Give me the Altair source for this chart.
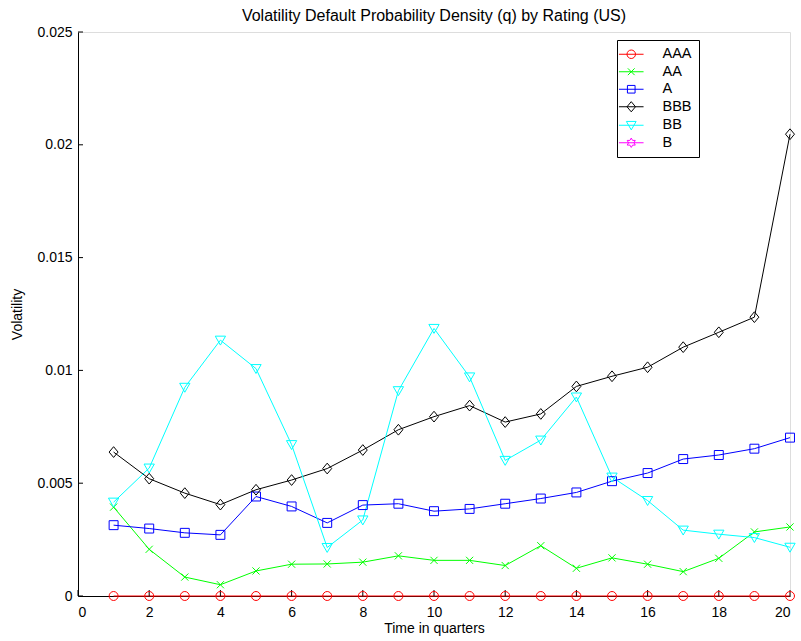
import altair as alt
import pandas as pd

quarters = list(range(1, 21))
series_names = ["AAA", "AA", "A", "BBB", "BB", "B"]
colors = ["#ff0000", "#00ff00", "#0000ff", "#000000", "#00ffff", "#ff00ff"]

aaa = [0.0] * 20
aa = [0.00394, 0.00207, 0.00084, 0.00050, 0.00111, 0.00141, 0.00142, 0.00150, 0.00178, 0.00158,
      0.00158, 0.00135, 0.00223, 0.00123, 0.00169, 0.00141, 0.00108, 0.00167, 0.00284, 0.00306]
a = [0.00314, 0.00299, 0.00280, 0.00271, 0.00441, 0.00397, 0.00324, 0.00403, 0.00409, 0.00376,
     0.00386, 0.00409, 0.00432, 0.00459, 0.00509, 0.00545, 0.00607, 0.00625, 0.00653, 0.00702]
bbb = [0.00638, 0.00520, 0.00456, 0.00405, 0.00471, 0.00514, 0.00565, 0.00647, 0.00737, 0.00795,
       0.00844, 0.00771, 0.00807, 0.00929, 0.00974, 0.01014, 0.01103, 0.01169, 0.01236, 0.02047]
bb = [0.00416, 0.00567, 0.00925, 0.01134, 0.01008, 0.00671, 0.00215, 0.00337, 0.00910, 0.01186,
      0.00971, 0.00601, 0.00691, 0.00882, 0.00527, 0.00423, 0.00292, 0.00274, 0.00259, 0.00216]
b = [None] * 20

x_ticks = [0, 2, 4, 6, 8, 10, 12, 14, 16, 18, 20]
y_ticks = [0, 0.005, 0.01, 0.015, 0.02, 0.025]

rows = []
for name, vals in zip(series_names, [aaa, aa, a, bbb, bb, b]):
    for q, v in zip(quarters, vals):
        rows.append({"Quarter": q, "Value": v, "Series": name, "Rating": name})
df = pd.DataFrame(rows)

W, H = 712, 564
FONT = "Liberation Sans"
FS = 14

plot_shapes = [
    "circle",
    "M-0.8,-0.8L0.8,0.8M-0.8,0.8L0.8,-0.8",
    "square",
    "M0,-1.2L1,0L0,1.2L-1,0Z",
    "M-1.15,-0.9H1.15L0,1.1Z",
    "M0,-1.1L0.32,-0.55L0.95,-0.55L0.64,0L0.95,0.55L0.32,0.55L0,1.1L-0.32,0.55L-0.95,0.55L-0.64,0L-0.95,-0.55L-0.32,-0.55Z",
]
L = "M-2.9,0H2.9"
legend_shapes = [
    L + "M1,0A1,1 0 1,1 -1,0A1,1 0 1,1 1,0",
    L + "M-0.8,-0.8L0.8,0.8M-0.8,0.8L0.8,-0.8",
    L + "M-0.9,-0.9H0.9V0.9H-0.9Z",
    L + "M0,-1.2L1,0L0,1.2L-1,0Z",
    L + "M-1.15,-0.9H1.15L0,1.1Z",
    L + "M0,-1.1L0.32,-0.55L0.95,-0.55L0.64,0L0.95,0.55L0.32,0.55L0,1.1L-0.32,0.55L-0.95,0.55L-0.64,0L-0.95,-0.55L-0.32,-0.55Z",
]

x_scale = alt.Scale(domain=[0, 20], nice=False)
y_scale = alt.Scale(domain=[0, 0.025], nice=False)

x_enc = alt.X("Quarter:Q", scale=x_scale,
              axis=alt.Axis(values=x_ticks, title="Time in quarters", grid=False, ticks=False,
                            tickSize=0, labelPadding=9, titlePadding=2, domainColor="black",
                            labelColor="black", titleColor="black", labelFont=FONT, titleFont=FONT,
                            labelFontSize=FS, titleFontSize=FS, titleFontWeight="normal"))
y_enc = alt.Y("Value:Q", scale=y_scale,
              axis=alt.Axis(values=y_ticks, format="~g", title="Volatility", grid=False, ticks=False,
                            tickSize=0, labelPadding=6, titlePadding=12, domainColor="black",
                            labelColor="black", titleColor="black", labelFont=FONT, titleFont=FONT,
                            labelFontSize=FS, titleFontSize=FS, titleFontWeight="normal"))

color_scale = alt.Scale(domain=series_names, range=colors)

lines = alt.Chart(df).mark_line(strokeWidth=1).encode(
    x=x_enc, y=y_enc,
    color=alt.Color("Series:N", scale=color_scale, legend=None),
    detail="Series:N",
)
points = alt.Chart(df).mark_point(filled=False, size=80, strokeWidth=1, opacity=1).encode(
    x="Quarter:Q", y="Value:Q",
    color=alt.Color("Series:N", scale=color_scale, legend=None),
    shape=alt.Shape("Series:N", scale=alt.Scale(domain=series_names, range=plot_shapes), legend=None),
)
leg = dict(orient="none", legendX=539, legendY=8, title=None, strokeColor="black",
           fillColor="white", padding=7, labelFont=FONT, labelFontSize=14.5, labelColor="black",
           symbolSize=72, symbolStrokeWidth=1, symbolOpacity=1, labelOffset=24, rowPadding=2.5,
           cornerRadius=0)
dummy = alt.Chart(df).mark_point(filled=False, opacity=0, size=72).encode(
    x="Quarter:Q", y="Value:Q",
    color=alt.Color("Rating:N", scale=alt.Scale(domain=series_names, range=colors), legend=alt.Legend(**leg)),
    shape=alt.Shape("Rating:N", scale=alt.Scale(domain=series_names, range=legend_shapes), legend=alt.Legend(**leg)),
)

xt = pd.DataFrame({"Quarter": x_ticks})
yt = pd.DataFrame({"Value": y_ticks})
xticks = alt.Chart(xt).mark_rule(color="black", strokeWidth=1).encode(
    x="Quarter:Q", y=alt.value(H), y2=alt.value(H - 6))
yticks = alt.Chart(yt).mark_rule(color="black", strokeWidth=1).encode(
    y="Value:Q", x=alt.value(0), x2=alt.value(5))

chart = alt.layer(lines, xticks, yticks, points, dummy).resolve_scale(
    color="independent", shape="independent"
).properties(
    width=W, height=H,
    title=alt.TitleParams("Volatility Default Probability Density (q) by Rating (US)",
                          font=FONT, fontSize=16, fontWeight="normal", color="black",
                          anchor="middle", offset=1),
    autosize=alt.AutoSizeParams(type="none"),
    padding={"left": 78, "top": 32, "right": 11, "bottom": 45},
).configure_view(stroke=None).configure(background="white")

chart.save("out.html", embed_options={"renderer": "svg", "actions": False})
